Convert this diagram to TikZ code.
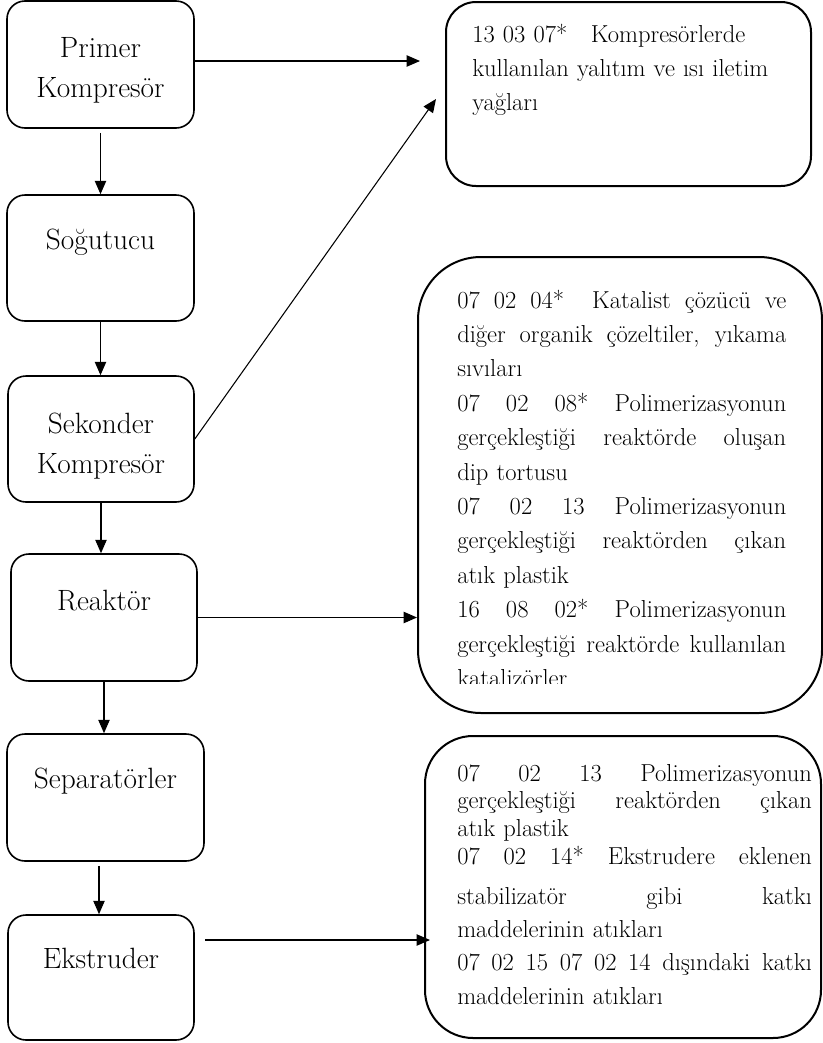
\documentclass[tikz,border=0pt]{standalone}
\usepackage{fontspec}
\usetikzlibrary{arrows.meta}

% one justified line (to width \jw) / one ragged last line of a waste-code paragraph
\newcommand\jw{246.75pt}
\newcommand\jline[1]{\makebox[\jw][s]{\spaceskip=0.333em plus 1fil\relax #1}\par}
\newcommand\lline[1]{\mbox{#1}\par}

\tikzset{
  stage/.style={draw, line width=1.2pt, rounded corners=13.5pt, inner sep=0pt},
  stagetext/.style={inner sep=0pt, text width=150pt, align=center,
    font=\fontsize{22}{30}\selectfont, anchor=base},
  wastebox/.style={draw, line width=1.5pt, inner sep=0pt},
  wastetext/.style={inner sep=0pt, anchor=base west,
    font=\fontsize{18.4}{25.8}\selectfont},
  flow/.style={line width=0.8pt, -{Triangle[length=10pt,width=8.5pt]}},
}

\begin{document}
\begin{tikzpicture}[x=0.75pt, y=-0.75pt]
\useasboundingbox (0,0) rectangle (823,1043);

% process stages
\node[stage, minimum width=140.25pt, minimum height=95.25pt] (b1) at (100.5,64.5) {};
\node[stage, minimum width=140.25pt, minimum height=94.5pt]  (b2) at (100.5,258) {};
\node[stage, minimum width=139.5pt,  minimum height=94.5pt]  (b3) at (101,439) {};
\node[stage, minimum width=139.5pt,  minimum height=95.25pt] (b4) at (104,617.5) {};
\node[stage, minimum width=147.75pt, minimum height=95.25pt] (b5) at (105.5,797.5) {};
\node[stage, minimum width=139.5pt,  minimum height=93.75pt] (b6) at (101,977.5) {};

\node[stagetext] (t1) at (100.5,57) {Primer\\Kompresör};
\node[stagetext] (t2) at (100.5,249) {Soğutucu};
\node[stagetext] (t3) at (101,433) {Sekonder\\Kompresör};
\node[stagetext] (t4) at (104,610) {Reaktör};
\node[stagetext] (t5) at (105.5,788) {Separatörler};
\node[stagetext] (t6) at (101,968) {Ekstruder};

% waste boxes
\node[wastebox, rounded corners=22.5pt, minimum width=273.75pt, minimum height=138pt] (r1) at (628.5,94) {};
\node[wastebox, rounded corners=47.25pt, minimum width=303pt, minimum height=342pt] (r2) at (620,485) {};
\node[wastebox, rounded corners=36pt, minimum width=297pt, minimum height=226.5pt] (r3) at (623,887) {};

\node[wastetext, text width=225pt] (w1) at (472,42) {%
  \makebox[204.75pt][s]{13 03 07*\hfill Kompresörlerde}\par
  \lline{kullanılan yalıtım ve ısı iletim}
  \lline{yağları}};

\begin{scope}
  \clip (418,257) rectangle (823,683);
  \node[wastetext, text width=246.75pt] (w2) at (457,308) {%
    \renewcommand\jw{246.75pt}%
    \jline{07 02 04*\ \ Katalist çözücü ve}
    \jline{diğer organik çözeltiler, yıkama}
    \lline{sıvıları}
    \jline{07 02 08* Polimerizasyonun}
    \jline{gerçekleştiği reaktörde oluşan}
    \lline{dip tortusu}
    \jline{07 02 13 Polimerizasyonun}
    \jline{gerçekleştiği reaktörden çıkan}
    \lline{atık plastik}
    \jline{16 08 02* Polimerizasyonun}
    \jline{gerçekleştiği reaktörde kullanılan}
    \lline{katalizörler}};
\end{scope}

\node[wastetext, text width=266pt] (w3) at (457,781) {%
  \renewcommand\jw{266pt}%
  \fontsize{18.4}{20.8}\selectfont
  \jline{07 02 13 Polimerizasyonun}
  \jline{gerçekleştiği reaktörden çıkan}
  \lline{atık plastik}
  \jline{07 02 14* Ekstrudere eklenen}
  \setlength{\baselineskip}{30pt}%
  \jline{stabilizatör gibi katkı}
  \setlength{\baselineskip}{25pt}%
  \lline{maddelerinin atıkları}
  \jline{07 02 15 07 02 14 dışındaki katkı}
  \lline{maddelerinin atıkları}};

% main flow
\draw[flow, shorten <=3pt] (b1.south) -- (b1.south |- b2.north);
\draw[flow] (b2.south) -- (b2.south |- b3.north);
\draw[flow] (b3.south) -- (b3.south |- b4.north);
\draw[flow] (b4.south) -- (b4.south |- b5.north);
\draw[flow, shorten <=3pt] ([xshift=-1.5pt]b6.north |- b5.south) -- ([xshift=-1.5pt]b6.north);

% waste streams
\coordinate (p1) at (420,61);
\coordinate (p2) at (436,99);
\coordinate (p3) at (430,940);
\coordinate (e1) at (205,940);
\draw[flow] (b1.east |- p1) -- (p1);
\draw[flow] (b3.east) -- (p2);
\draw[flow] (b4.east) -- (b4.east -| r2.west);
\draw[flow] (e1) -- (p3);
\end{tikzpicture}
\end{document}
